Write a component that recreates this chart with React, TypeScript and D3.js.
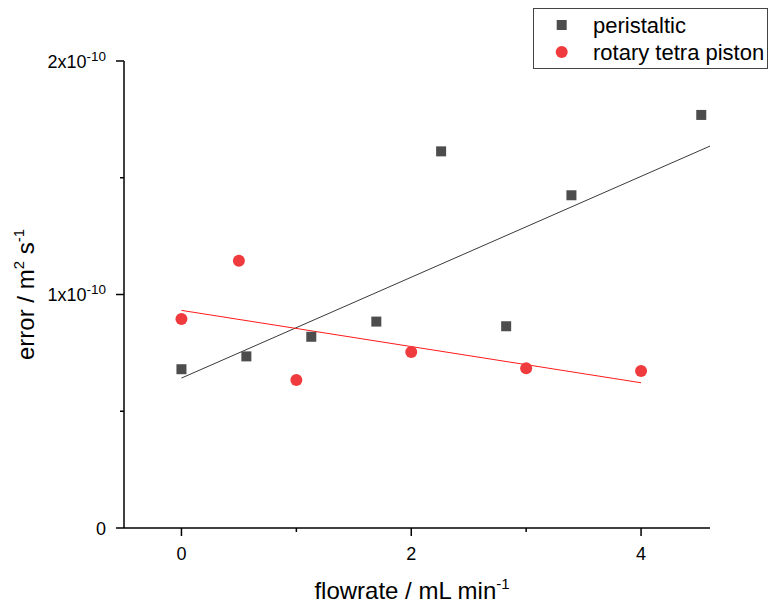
import React from "react";
import * as d3 from "d3";

// Flow-rate (mL/min) and error (m² s⁻¹) for the two pump types
const peristalticFlow = [0, 0.565, 1.13, 1.696, 2.26, 2.826, 3.394, 4.524];
const peristalticError = [0.68e-10, 0.735e-10, 0.819e-10, 0.884e-10, 1.613e-10, 0.864e-10, 1.425e-10, 1.769e-10];

const rotaryFlow = [0, 0.5, 1, 2, 3, 4];
const rotaryError = [0.895e-10, 1.145e-10, 0.634e-10, 0.754e-10, 0.684e-10, 0.672e-10];

// Linear fits: [intercept, slope] and the flow range each fit is drawn over
const peristalticFit = [0.642e-10, 0.216e-10];
const peristalticFitRange = [0, 4.6];
const rotaryFit = [0.932e-10, -0.0775e-10];
const rotaryFitRange = [0, 4];

const xTicks = [0, 2, 4];
const xMinorTicks = [1, 3];
const yTicks = [0, 1e-10, 2e-10];
const yTickMantissa = ["0", "1x10", "2x10"];
const yTickExp = ["", "-10", "-10"];
const yMinorTicks = [0.5e-10, 1.5e-10];

const seriesNames = ["peristaltic", "rotary tetra piston"];
const squareColor = "#4d4d4d";
const circleColor = "#ef3b3e";

const W = 771;
const H = 608;
const left = 124;
const right = 710;
const top = 61;
const bottom = 528;
const font = "Arial, 'Liberation Sans', sans-serif";

export default function App() {
  const x = d3.scaleLinear().domain([-0.5, 4.6]).range([left, right]);
  const y = d3.scaleLinear().domain([0, 2e-10]).range([bottom, top]);

  const fitLine = (fit: number[], range: number[]) =>
    d3
      .line<number>()
      .x((d) => x(d))
      .y((d) => y(fit[0] + fit[1] * d))(range) || "";

  const sq = 10;
  const r = 6;

  return (
    <svg
      width={W}
      height={H}
      style={{ position: "absolute", left: 0, top: 0, background: "#fff" }}
      fontFamily={font}
    >
      <rect x={0} y={0} width={W} height={H} fill="#fff" />

      {/* fit lines */}
      <path d={fitLine(peristalticFit, peristalticFitRange)} stroke="#3a3a3a" strokeWidth={1} fill="none" />
      <path d={fitLine(rotaryFit, rotaryFitRange)} stroke="#ff1a1a" strokeWidth={1} fill="none" />

      {/* markers */}
      {peristalticFlow.map((f, i) => (
        <rect
          key={"p" + i}
          x={x(f) - sq / 2}
          y={y(peristalticError[i]) - sq / 2}
          width={sq}
          height={sq}
          fill={squareColor}
        />
      ))}
      {rotaryFlow.map((f, i) => (
        <circle key={"r" + i} cx={x(f)} cy={y(rotaryError[i])} r={r} fill={circleColor} />
      ))}

      {/* axes */}
      <line x1={left} x2={right} y1={bottom} y2={bottom} stroke="#000" strokeWidth={1.5} />
      <line x1={left} x2={left} y1={top} y2={bottom} stroke="#000" strokeWidth={1.5} />

      {xTicks.map((t) => (
        <g key={"xt" + t}>
          <line x1={x(t)} x2={x(t)} y1={bottom} y2={bottom + 8} stroke="#000" strokeWidth={1.5} />
          <text x={x(t)} y={560} fontSize={18} textAnchor="middle" fill="#000">
            {t}
          </text>
        </g>
      ))}
      {xMinorTicks.map((t) => (
        <line key={"xm" + t} x1={x(t)} x2={x(t)} y1={bottom} y2={bottom + 4} stroke="#000" strokeWidth={1.5} />
      ))}

      {yTicks.map((t, i) => (
        <g key={"yt" + i}>
          <line x1={left - 8} x2={left} y1={y(t)} y2={y(t)} stroke="#000" strokeWidth={1.5} />
          <text x={106} y={y(t) + 6.5} fontSize={18} textAnchor="end" fill="#000">
            {yTickMantissa[i]}
            {yTickExp[i] && (
              <tspan fontSize={13.5} dy={-7}>
                {yTickExp[i]}
              </tspan>
            )}
          </text>
        </g>
      ))}
      {yMinorTicks.map((t) => (
        <line key={"ym" + t} x1={left - 4} x2={left} y1={y(t)} y2={y(t)} stroke="#000" strokeWidth={1.5} />
      ))}

      {/* axis titles */}
      <text x={412} y={599} fontSize={24} textAnchor="middle" fill="#000">
        flowrate / mL min
        <tspan fontSize={15} dy={-10}>
          -1
        </tspan>
      </text>
      <text
        transform={`translate(34, ${(top + bottom) / 2}) rotate(-90)`}
        fontSize={24}
        textAnchor="middle"
        fill="#000"
      >
        error / m
        <tspan fontSize={15} dy={-10}>
          2
        </tspan>
        <tspan dy={10}> s</tspan>
        <tspan fontSize={15} dy={-10}>
          -1
        </tspan>
      </text>

      {/* legend */}
      <rect x={533.5} y={8.5} width={234} height={60} fill="#fff" stroke="#444" strokeWidth={1} />
      <rect x={561.7 - sq / 2} y={25 - sq / 2} width={sq} height={sq} fill={squareColor} />
      <circle cx={561.7} cy={52} r={r} fill={circleColor} />
      <text x={593} y={33} fontSize={22} fill="#000">
        {seriesNames[0]}
      </text>
      <text x={593} y={59.5} fontSize={22} fill="#000">
        {seriesNames[1]}
      </text>
    </svg>
  );
}
